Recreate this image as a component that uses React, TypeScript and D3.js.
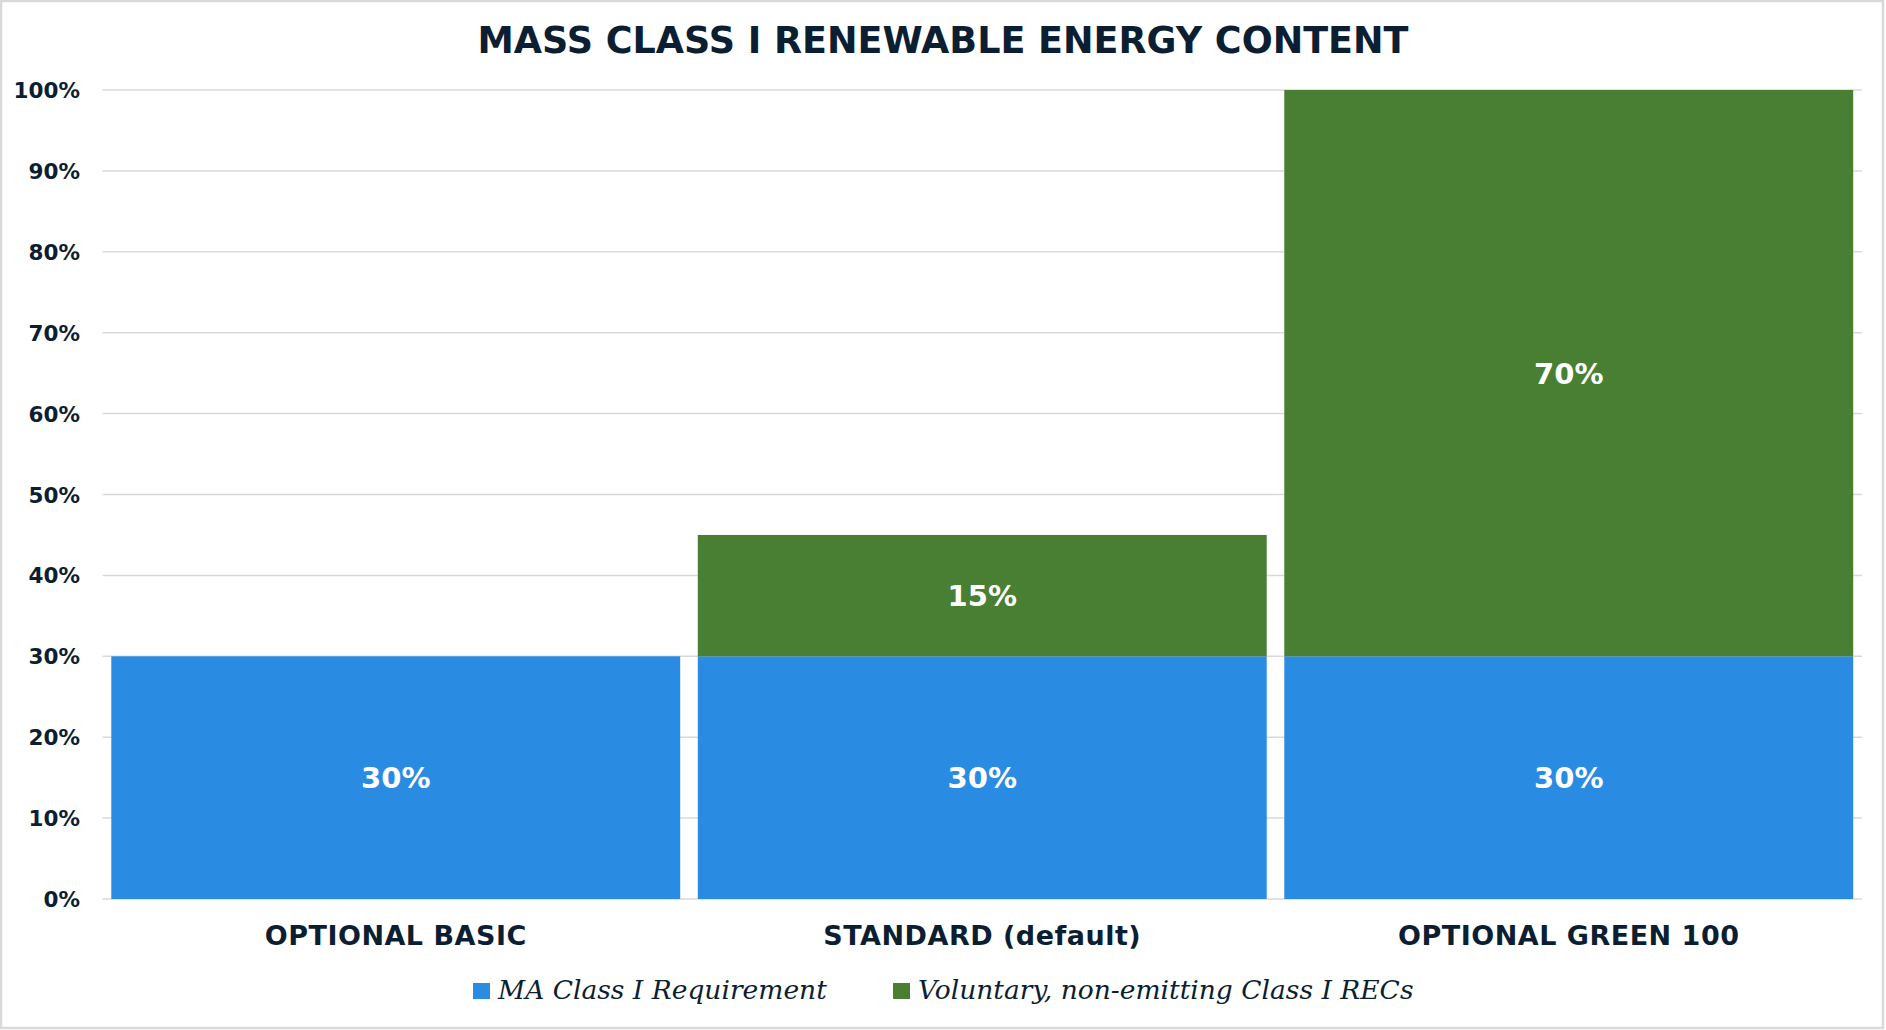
import React from "react";
import * as d3 from "d3";

const categories = ["OPTIONAL BASIC", "STANDARD (default)", "OPTIONAL GREEN 100"];
const requirement = [30, 30, 30];
const voluntary = [0, 15, 70];
const seriesNames = ["MA Class I Requirement", "Voluntary, non-emitting Class I RECs"];
const seriesColors = ["#2A8BE3", "#487F33"];
const yTicks = [0, 10, 20, 30, 40, 50, 60, 70, 80, 90, 100];
const title = "MASS CLASS I RENEWABLE ENERGY CONTENT";

const W = 1886;
const H = 1030;
const left = 102.5;
const right = 1862;
const top = 90;
const bottom = 899;
const textColor = "#0C1E31";
const sans = "'DejaVu Sans', sans-serif";
const serif = "'DejaVu Serif', serif";

export default function App() {
  const x = d3.scaleBand<string>().domain(categories).range([left, right]).paddingInner(0.03).paddingOuter(0.015);
  const y = d3.scaleLinear().domain([0, 100]).range([bottom, top]);
  const rows = categories.map((c, i) => ({ cat: c, req: requirement[i], vol: voluntary[i] }));
  const stack = d3.stack<any>().keys(["req", "vol"])(rows as any);

  return (
    <svg width={W} height={H} style={{ position: "fixed", left: 0, top: 0, background: "#fff" }}>
      <rect x={1} y={1} width={W - 4} height={H - 3} fill="#fff" stroke="#d9d9d9" strokeWidth={2.5} />
      <text x={943} y={53} textAnchor="middle" fontFamily={sans} fontWeight={700} fontSize={36.5} fill={textColor}>
        {title}
      </text>
      {yTicks.map((t) => (
        <g key={t}>
          <line x1={left} x2={right} y1={y(t)} y2={y(t)} stroke="#d9d9d9" strokeWidth={1.5} />
          <text x={80} y={y(t) + 8} textAnchor="end" fontFamily={sans} fontWeight={700} fontSize={21.5} fill={textColor}>
            {t}%
          </text>
        </g>
      ))}
      {stack.map((layer, li) =>
        layer.map((d, i) => {
          const v = d[1] - d[0];
          if (v <= 0) return null;
          const cat = categories[i];
          const bx = x(cat)!;
          const bw = x.bandwidth();
          const y0 = y(d[0]);
          const y1 = y(d[1]);
          return (
            <g key={li + "-" + i}>
              <rect x={bx} y={y1} width={bw} height={y0 - y1} fill={seriesColors[li]} />
              <text
                x={bx + bw / 2}
                y={(y0 + y1) / 2 + 10.5}
                textAnchor="middle"
                fontFamily={sans}
                fontWeight={700}
                fontSize={29}
                fill="#fff"
              >
                {v}%
              </text>
            </g>
          );
        })
      )}
      {categories.map((c) => (
        <text
          key={c}
          x={x(c)! + x.bandwidth() / 2}
          y={945}
          textAnchor="middle"
          fontFamily={sans}
          fontWeight={700}
          fontSize={27}
          letterSpacing={0.5}
          fill={textColor}
        >
          {c}
        </text>
      ))}
      {seriesNames.map((n, i) => {
        const lx = [473, 893][i];
        return (
          <g key={n}>
            <rect x={lx} y={983} width={17} height={16} fill={seriesColors[i]} />
            <text x={lx + 25} y={999} fontFamily={serif} fontStyle="italic" fontSize={26.5} fill={textColor}>
              {n}
            </text>
          </g>
        );
      })}
    </svg>
  );
}
